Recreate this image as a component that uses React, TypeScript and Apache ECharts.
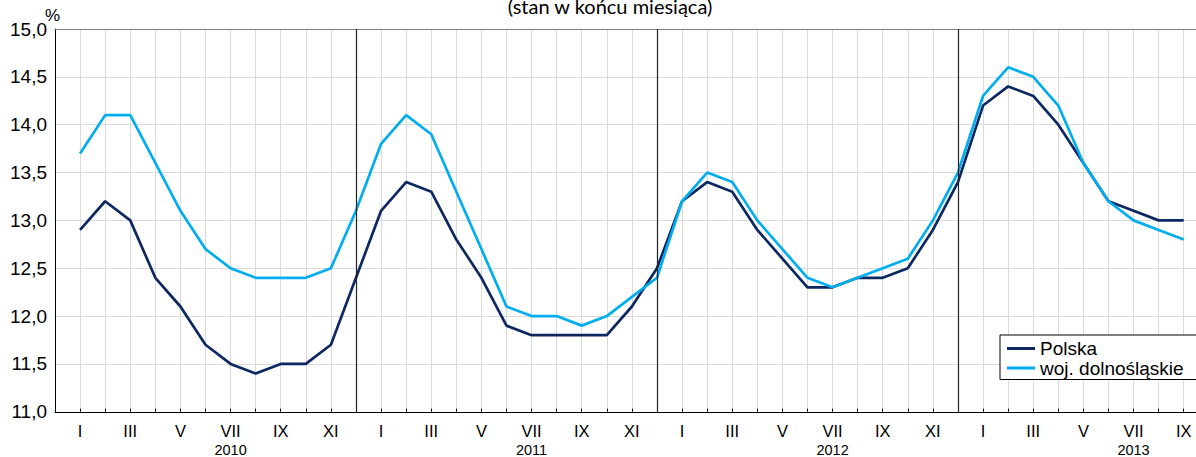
import React, { useEffect, useRef } from "react";
import * as echarts from "echarts";

const MONTHS = ["I", "II", "III", "IV", "V", "VI", "VII", "VIII", "IX", "X", "XI", "XII"];
const YEARS = ["2010", "2011", "2012", "2013"];
const Y_TICKS = [11, 11.5, 12, 12.5, 13, 13.5, 14, 14.5, 15];

const polska = [
  12.9, 13.2, 13.0, 12.4, 12.1, 11.7, 11.5, 11.4, 11.5, 11.5, 11.7, 12.4,
  13.1, 13.4, 13.3, 12.8, 12.4, 11.9, 11.8, 11.8, 11.8, 11.8, 12.1, 12.5,
  13.2, 13.4, 13.3, 12.9, 12.6, 12.3, 12.3, 12.4, 12.4, 12.5, 12.9, 13.4,
  14.2, 14.4, 14.3, 14.0, 13.6, 13.2, 13.1, 13.0, 13.0,
];
const dolnoslaskie = [
  13.7, 14.1, 14.1, 13.6, 13.1, 12.7, 12.5, 12.4, 12.4, 12.4, 12.5, 13.1,
  13.8, 14.1, 13.9, 13.3, 12.7, 12.1, 12.0, 12.0, 11.9, 12.0, 12.2, 12.4,
  13.2, 13.5, 13.4, 13.0, 12.7, 12.4, 12.3, 12.4, 12.5, 12.6, 13.0, 13.5,
  14.3, 14.6, 14.5, 14.2, 13.6, 13.2, 13.0, 12.9, 12.8,
];
const SERIES_NAMES = ["Polska", "woj. dolnośląskie"];
const TITLE = "(stan w końcu miesiąca)";
const UNIT = "%";

const FONT = "'Liberation Sans', Arial, sans-serif";

export default function App() {
  const ref = useRef<HTMLDivElement>(null);

  useEffect(() => {
    if (!ref.current) return;
    const chart = echarts.init(ref.current, undefined, { renderer: "svg" });
    const n = polska.length;
    const toPts = (arr: number[]) => arr.map((v, i) => [i + 1, v]);
    const yearSeparators = YEARS.slice(0, YEARS.length - 1).map((_, k) => ({ xAxis: (k + 1) * 12 }));

    chart.setOption({
      animation: false,
      backgroundColor: "#ffffff",
      textStyle: { fontFamily: FONT },
      grid: { left: 55, right: 16.2, top: 49, bottom: 44.5 },
      legend: {
        data: SERIES_NAMES,
        orient: "vertical",
        left: 1000,
        top: 355,
        backgroundColor: "#ffffff",
        borderColor: "#000000",
        borderWidth: 1,
        borderRadius: 0,
        padding: [4, 20, 2, 7],
        itemGap: 0.5,
        icon: "rect",
        itemWidth: 28,
        itemHeight: 3,
        textStyle: { fontFamily: FONT, fontSize: 19, color: "#000", lineHeight: 19 },
      },
      graphic: [
        {
          type: "text",
          x: 610,
          y: 36,
          style: {
            text: TITLE,
            fontFamily: "Lato, 'Noto Sans', sans-serif",
            fontSize: 20,
            fill: "#000",
            align: "center",
            verticalAlign: "bottom",
          },
        },
        {
          type: "text",
          x: 45,
          y: 35,
          style: {
            text: UNIT,
            fontFamily: FONT,
            fontSize: 17,
            fill: "#000",
            align: "left",
            verticalAlign: "middle",
          },
        },
      ],
      xAxis: [
        {
          type: "value",
          min: 0,
          max: n + 1,
          interval: 1,
          axisLine: { show: true, onZero: false, lineStyle: { color: "#000", width: 1 } },
          axisTick: { show: true, inside: true, length: 3, lineStyle: { color: "#000", width: 1 } },
          splitLine: { show: true, lineStyle: { color: "#dadada", width: 1 } },
          axisLabel: {
            show: true,
            margin: 10,
            showMinLabel: true,
            showMaxLabel: true,
            formatter: (value: number) => {
              const idx = Math.round(value) - 1;
              if (idx < 0 || idx >= n) return "";
              const m = idx % 12;
              if (m % 2 !== 0) return "";
              if (m === 6) return `{m|${MONTHS[m]}}\n{y|${YEARS[Math.floor(idx / 12)]}}`;
              return `{m|${MONTHS[m]}}`;
            },
            rich: {
              m: { fontFamily: FONT, fontSize: 16.5, color: "#000", lineHeight: 18.5 },
              y: { fontFamily: FONT, fontSize: 14.5, color: "#000", lineHeight: 18.5 },
            },
          },
        },
        {
          type: "value",
          position: "top",
          min: 0,
          max: n + 1,
          axisLine: { show: true, onZero: false, lineStyle: { color: "#7f7f7f", width: 1.2 } },
          axisTick: { show: false },
          axisLabel: { show: false },
          splitLine: { show: false },
        },
      ],
      yAxis: {
        type: "value",
        min: Y_TICKS[0],
        max: Y_TICKS[Y_TICKS.length - 1],
        interval: 0.5,
        axisLine: { show: true, lineStyle: { color: "#000", width: 1 } },
        axisTick: { show: false },
        splitLine: { show: true, lineStyle: { color: "#dadada", width: 1.2 } },
        axisLabel: {
          margin: 8,
          fontFamily: FONT,
          fontSize: 19,
          color: "#000",
          formatter: (v: number) => v.toFixed(1).replace(".", ","),
        },
      },
      series: [
        {
          name: "separators",
          type: "line",
          data: [],
          silent: true,
          markLine: {
            silent: true,
            symbol: ["none", "none"],
            label: { show: false },
            lineStyle: { color: "#222", width: 1.2, type: "solid" },
            data: yearSeparators,
          },
        },
        {
          name: SERIES_NAMES[0],
          type: "line",
          data: toPts(polska),
          symbol: "none",
          color: "#0d2860",
          lineStyle: { color: "#0d2860", width: 2.7 },
        },
        {
          name: SERIES_NAMES[1],
          type: "line",
          data: toPts(dolnoslaskie),
          symbol: "none",
          color: "#00aeef",
          lineStyle: { color: "#00aeef", width: 2.7 },
        },
      ],
    });
    return () => chart.dispose();
  }, []);

  return (
    <div
      style={{
        position: "fixed",
        left: 0,
        top: 0,
        width: 1196,
        height: 457,
        overflow: "hidden",
        background: "#fff",
      }}
    >
      <div ref={ref} style={{ position: "absolute", left: 0, top: -20, width: 1225, height: 477 }} />
    </div>
  );
}
